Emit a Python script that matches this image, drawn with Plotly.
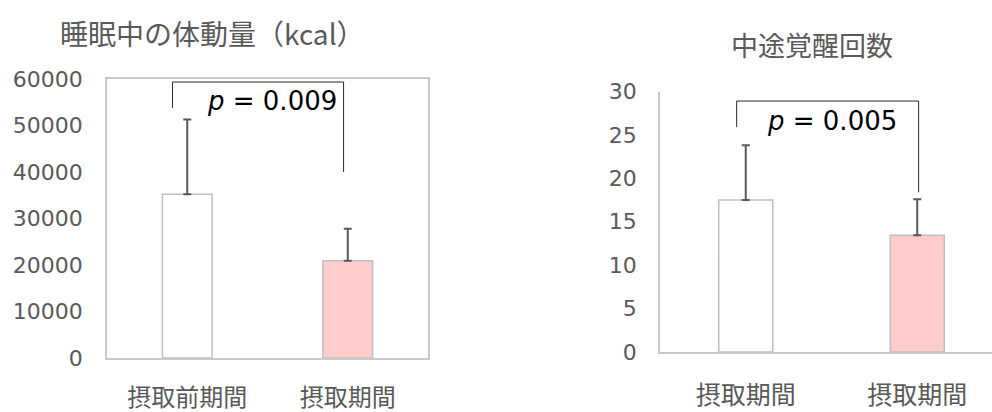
import plotly.graph_objects as go

# ---------------- data ----------------
left_title = "睡眠中の体動量（kcal）"
left_categories = ["摂取前期間", "摂取期間"]
left_values = [35200, 20900]
left_errors = [16100, 6900]
left_p_text = "<i>p</i> = 0.009"
left_bracket_y = [53800, 59350, 40000]     # left foot, top, right foot
left_yticks = [0, 10000, 20000, 30000, 40000, 50000, 60000]

right_title = "中途覚醒回数"
right_categories = ["摂取期間", "摂取期間"]
right_values = [17.5, 13.45]
right_errors = [6.3, 4.15]
right_p_text = "<i>p</i> = 0.005"
right_bracket_y = [25.9, 28.9, 18.4]
right_yticks = [0, 5, 10, 15, 20, 25, 30]

# ---------------- style ----------------
W, H = 992, 412
GRAY_TXT = "#595959"
AXIS_LINE = "#c8c8c8"
BAR_LINE = "#bfbfbf"
FILLS = ["#ffffff", "#ffcccc"]
NUM_FONT = "DejaVu Sans, Noto Sans CJK JP"
JP_FONT = "Noto Sans CJK JP, DejaVu Sans"


def px_x(p):
    return p / W


def px_y(p):
    return (H - p) / H


fig = go.Figure()

fig.add_trace(go.Bar(
    x=[0, 1], y=left_values, width=0.31,
    marker=dict(color=FILLS, line=dict(color=BAR_LINE, width=1.5)),
    error_y=dict(type="data", array=left_errors, symmetric=False, arrayminus=[0, 0],
                 color=GRAY_TXT, thickness=2, width=4),
    xaxis="x", yaxis="y", showlegend=False, hoverinfo="skip",
))
fig.add_trace(go.Bar(
    x=[0, 1], y=right_values, width=0.315,
    marker=dict(color=FILLS, line=dict(color=BAR_LINE, width=1.5)),
    error_y=dict(type="data", array=right_errors, symmetric=False, arrayminus=[0, 0],
                 color=GRAY_TXT, thickness=2, width=4),
    xaxis="x2", yaxis="y2", showlegend=False, hoverinfo="skip",
))

axis_common = dict(showgrid=False, zeroline=False, showline=True, linecolor=AXIS_LINE,
                   linewidth=1.5, ticks="", fixedrange=True, automargin=False)

fig.update_layout(
    width=W, height=H,
    margin=dict(l=0, r=0, t=0, b=0),
    paper_bgcolor="white", plot_bgcolor="white",
    bargap=0.69,
    xaxis=dict(domain=[px_x(107), px_x(428)], range=[-0.5, 1.5],
               tickvals=[0, 1], ticktext=left_categories, mirror=True,
               tickfont=dict(family=JP_FONT, size=24, color=GRAY_TXT),
               ticklabelstandoff=17, anchor="y", **axis_common),
    yaxis=dict(domain=[px_y(358), px_y(79)], range=[0, 60000],
               tickvals=left_yticks, tickformat="d", mirror=True,
               tickfont=dict(family=NUM_FONT, size=22, color=GRAY_TXT),
               ticklabelstandoff=18, anchor="x", **axis_common),
    xaxis2=dict(domain=[px_x(660), 1.0], range=[-0.5, -0.5 + (992 - 660) / 171.5],
                tickvals=[0, 1], ticktext=right_categories,
                tickfont=dict(family=JP_FONT, size=25, color=GRAY_TXT),
                ticklabelstandoff=20, anchor="y2", **axis_common),
    yaxis2=dict(domain=[px_y(352), px_y(91.5)], range=[0, 30],
                tickvals=right_yticks, mirror=True,
                tickfont=dict(family=NUM_FONT, size=22, color=GRAY_TXT),
                ticklabelstandoff=17, anchor="x2", **axis_common),
)


def bracket(xref, yref, yvals, x_left, x_right):
    y_lf, y_top, y_rf = yvals
    ln = dict(color="#262626", width=1)
    return [
        dict(type="line", xref=xref, yref=yref, x0=x_left, x1=x_left, y0=y_lf, y1=y_top, line=ln),
        dict(type="line", xref=xref, yref=yref, x0=x_left, x1=x_right, y0=y_top, y1=y_top, line=ln),
        dict(type="line", xref=xref, yref=yref, x0=x_right, x1=x_right, y0=y_top, y1=y_rf, line=ln),
    ]


shapes = bracket("x", "y", left_bracket_y, -0.092, 0.974) + \
    bracket("x2", "y2", right_bracket_y, -0.053, 1.008)
fig.update_layout(shapes=shapes)

annotations = [
    dict(text=left_title, xref="paper", yref="paper", x=px_x(212), y=px_y(33),
         showarrow=False, xanchor="center", yanchor="middle",
         font=dict(family=JP_FONT, size=28, color=GRAY_TXT)),
    dict(text=right_title, xref="paper", yref="paper", x=px_x(812), y=px_y(45),
         showarrow=False, xanchor="center", yanchor="middle",
         font=dict(family=JP_FONT, size=27, color=GRAY_TXT)),
    dict(text=left_p_text, xref="paper", yref="paper", x=px_x(272), y=px_y(101),
         showarrow=False, xanchor="center", yanchor="middle",
         font=dict(family=NUM_FONT, size=26, color="#000000")),
    dict(text=right_p_text, xref="paper", yref="paper", x=px_x(832), y=px_y(121),
         showarrow=False, xanchor="center", yanchor="middle",
         font=dict(family=NUM_FONT, size=26, color="#000000")),
]
fig.update_layout(annotations=annotations)

fig.write_html("out.html", config={"displayModeBar": False},
               post_script="document.body.style.margin='0';document.body.style.overflow='hidden';")
